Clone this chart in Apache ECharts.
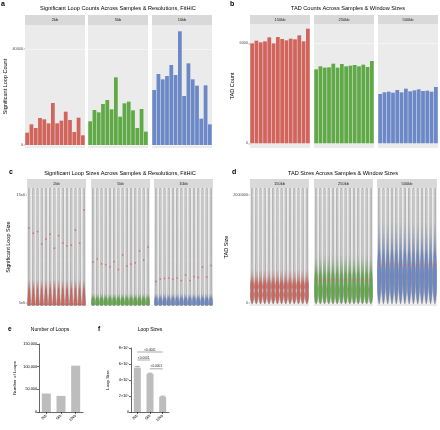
<!DOCTYPE html>
<html><head><meta charset="utf-8">
<script src="https://cdn.jsdelivr.net/npm/echarts@6/dist/echarts.min.js"></script>
<style>html,body{margin:0;padding:0;background:#fff}#c{width:440px;height:430px}</style>
</head><body><div id="c"></div>
<script>
// ---------------- DATA ----------------
const samples = ['S1','S2','S3','S4','S5','S6','S7','S8','S9','S10','S11','S12','S13','S14'];
const loopResolutions = ['2kb','5kb','10kb'];
const loopCounts2kb  = [5140, 8610, 7080, 11250, 10700, 9030, 17500, 9030, 10140, 13890, 10420, 5420, 11390, 4030];
const loopCounts5kb  = [9860, 14580, 13610, 17080, 18750, 14860, 28200, 11800, 17360, 18060, 14440, 7080, 15000, 5560];
const loopCounts10kb = [22900, 29590, 27360, 28750, 33340, 29170, 47360, 20420, 34030, 27360, 24720, 10970, 24860, 8610];
const loopCountTicks = [0, 40000];

const tadWindows = ['150kb','250kb','500kb'];
const tadCounts150kb = [6000, 6160, 6060, 6120, 6360, 6000, 6380, 6260, 6180, 6280, 6240, 6480, 6120, 6880];
const tadCounts250kb = [4440, 4620, 4540, 4560, 4780, 4540, 4760, 4620, 4660, 4700, 4620, 4720, 4580, 4940];
const tadCounts500kb = [2960, 3060, 3100, 3040, 3200, 3060, 3280, 3120, 3180, 3240, 3140, 3160, 3100, 3380];
const tadCountTicks = [0, 6000];

// loop sizes (axis units, labelled "…e6")
const loopSizeMedian2kb  = [11.92, 11.45, 11.6, 10.44, 10.9, 11.36, 10.06, 11.23, 10.56, 10.28, 10.34, 11.73, 10.53, 13.61];
const loopSizeMedian5kb  = [8.77, 9.05, 8.61, 8.52, 8.33, 8.82, 8.08, 9.44, 8.40, 8.58, 8.70, 9.81, 8.95, 10.16];
const loopSizeMedian10kb = [6.97, 7.19, 7.25, 7.29, 7.19, 7.29, 7.06, 7.59, 7.06, 7.41, 7.34, 8.31, 7.38, 8.45];
const loopSizeTicks = [5, 15];
const loopSizeTickLabels = ['5e6', '15e6'];
// violin density profiles: [value, relative width]
const loopViolin2kb  = [[4.72,0],[4.78,0.95],[5.0,0.85],[5.4,0.7],[5.9,0.55],[6.5,0.45],[7.2,0.38],[9,0.35],[15.6,0.32]];
const loopViolin5kb  = [[4.72,0],[4.78,0.8],[4.95,0.95],[5.2,0.85],[5.5,0.6],[5.9,0.42],[6.5,0.36],[9,0.34],[15.6,0.32]];
const loopViolin10kb = [[4.72,0],[4.78,0.85],[4.95,0.95],[5.2,0.85],[5.5,0.6],[5.9,0.42],[6.5,0.36],[9,0.34],[15.6,0.32]];

const tadSizeMedian150kb = [300000, 295000, 305000, 300000, 298000, 302000, 300000, 296000, 304000, 300000, 298000, 302000, 300000, 305000];
const tadSizeMedian250kb = [430000, 425000, 435000, 428000, 432000, 430000, 426000, 434000, 430000, 428000, 432000, 430000, 427000, 433000];
const tadSizeMedian500kb = [705000, 700000, 715000, 700000, 710000, 705000, 700000, 712000, 705000, 715000, 705000, 700000, 710000, 705000];
const tadSizeTicks = [0, 2000000];
const tadViolin150kb = [[-20000,0],[0,0.3],[60000,0.7],[150000,0.95],[230000,0.75],[300000,0.95],[400000,0.7],[500000,0.5],[600000,0.4],[800000,0.35],[2120000,0.32]];
const tadViolin250kb = [[-20000,0],[20000,0.5],[120000,0.85],[250000,0.95],[350000,0.8],[450000,0.75],[600000,0.55],[800000,0.4],[1000000,0.35],[2120000,0.32]];
const tadViolin500kb = [[-20000,0],[50000,0.4],[200000,0.8],[350000,0.95],[500000,1.0],[650000,0.9],[800000,0.7],[1000000,0.5],[1300000,0.38],[1600000,0.34],[2120000,0.32]];

const summaryCats = ['2kb','5kb','10kb'];
const numberOfLoops = [40700, 35500, 102200];
const loopSizeMean = [555000, 475000, 190000];
const loopSizeErr = [15000, 10000, 8000];
const loopSizeAxisLabels = ['0','2×10⁵','4×10⁵','6×10⁵','8×10⁵'];
const sigBrackets = [[0, 2, 750000], [0, 1, 650000], [1, 2, 540000]];
const sigLabels = ['<0.0001', '<0.0001', '<0.0001'];

// ---------------- STYLE / LAYOUT ----------------
const FONT = 'Liberation Sans, Arial, sans-serif';
const RED = '#D1645B', GREEN = '#5FAA46', BLUE = '#6C88C6';
const grids = [], xAxes = [], yAxes = [], series = [], graphics = [];

function ggFacet(left, top, width, height, stripTop, stripLabel, y) {
  const gi = grids.length;
  grids.push({left, top, width, height, show: true, backgroundColor: '#EBEBEB', borderWidth: 0});
  xAxes.push({gridIndex: gi, type: 'category', data: samples, boundaryGap: true,
    axisLine: {show: false}, axisTick: {show: false}, axisLabel: {show: false}, splitLine: {show: false}});
  yAxes.push({gridIndex: gi, type: 'value', min: y.min, max: y.max,
    axisLine: {show: false},
    axisTick: {show: y.show, length: 1.5, lineStyle: {color: '#333', width: 0.4}, customValues: y.ticks},
    axisLabel: {show: y.show, customValues: y.ticks, formatter: v => y.labels ? y.labels[y.ticks.indexOf(v)] : String(v),
      fontSize: 3.8, color: '#4D4D4D', margin: 2, fontFamily: FONT},
    splitLine: {show: true, lineStyle: {color: '#FFFFFF', width: 0.5}},
    name: y.show ? y.name : '', nameLocation: 'middle', nameGap: y.gap,
    nameTextStyle: {fontSize: 5.5, color: '#000', fontFamily: FONT}});
  graphics.push({type: 'rect', silent: true, shape: {x: left, y: stripTop, width: width, height: top - stripTop}, style: {fill: '#D9D9D9'}});
  graphics.push({type: 'text', silent: true, x: left + width / 2, y: (stripTop + top) / 2,
    style: {text: stripLabel, fontSize: 4, fill: '#1A1A1A', fontFamily: FONT, align: 'center', verticalAlign: 'middle', textAlign: 'center', textVerticalAlign: 'middle'}});
  return gi;
}

function violinRender(profile, color, fadeValue) {
  return function (params, api) {
    const xi = api.value(0), med = api.value(1);
    const slot = api.size([1, 0])[0];
    const half = slot * 0.46;
    const cx = api.coord([xi, profile[0][0]])[0];
    const left = [], right = [];
    profile.forEach(p => {
      const yy = api.coord([xi, p[0]])[1];
      left.push([cx - half * p[1], yy]);
      right.push([cx + half * p[1], yy]);
    });
    const pts = left.concat(right.reverse());
    const yTop = api.coord([xi, profile[profile.length - 1][0]])[1];
    const yBot = api.coord([xi, profile[0][0]])[1];
    const yFade = api.coord([xi, fadeValue])[1];
    const off = Math.min(0.98, Math.max(0, (yFade - yTop) / (yBot - yTop)));
    const mp = api.coord([xi, med]);
    return {type: 'group', children: [
      {type: 'polygon', shape: {points: pts},
        style: {fill: new echarts.graphic.LinearGradient(0, 0, 0, 1, [
          {offset: 0, color: '#F4F4F4'}, {offset: off, color: '#E2E2E2'},
          {offset: off + (1 - off) * 0.4, color: color}, {offset: 1, color: color}]),
          stroke: '#7A7A7A', lineWidth: 0.5}},
      {type: 'circle', shape: {cx: mp[0], cy: mp[1], r: 0.85}, style: {fill: 'rgba(220,90,90,0.8)'}}
    ]};
  };
}

// ---- panel a ----
const aLefts = [25, 88, 152];
const aData = [loopCounts2kb, loopCounts5kb, loopCounts10kb];
const resColors = [RED, GREEN, BLUE];
aLefts.forEach((l, k) => {
  const gi = ggFacet(l, 25, 60, 123, 15, loopResolutions[k],
    {min: -1250, max: 50000, show: k === 0, ticks: loopCountTicks, name: 'Significant Loop Count', gap: 14});
  series.push({type: 'bar', xAxisIndex: gi, yAxisIndex: gi, data: aData[k], barCategoryGap: '12%',
    itemStyle: {color: resColors[k]}, silent: true, animation: false});
});
// ---- panel b ----
const bLefts = [250, 314, 378];
const bData = [tadCounts150kb, tadCounts250kb, tadCounts500kb];
bLefts.forEach((l, k) => {
  const gi = ggFacet(l, 24, 60, 124, 15, tadWindows[k],
    {min: -280, max: 7160, show: k === 0, ticks: tadCountTicks, name: 'TAD Count', gap: 12});
  series.push({type: 'bar', xAxisIndex: gi, yAxisIndex: gi, data: bData[k], barCategoryGap: '12%',
    itemStyle: {color: resColors[k]}, silent: true, animation: false});
});
// ---- panel c ----
const cLefts = [27, 91, 154];
const cMed = [loopSizeMedian2kb, loopSizeMedian5kb, loopSizeMedian10kb];
const cProf = [loopViolin2kb, loopViolin5kb, loopViolin10kb];
const cFade = [7.2, 5.9, 5.9];
cLefts.forEach((l, k) => {
  const gi = ggFacet(l, 188, 59, 118, 179, loopResolutions[k],
    {min: 4.69, max: 15.65, show: k === 0, ticks: loopSizeTicks, labels: loopSizeTickLabels, name: 'Significant Loop Size', gap: 16});
  series.push({type: 'custom', xAxisIndex: gi, yAxisIndex: gi, silent: true, animation: false, clip: true,
    data: cMed[k].map((v, i) => [i, v]), encode: {x: 0, y: 1},
    renderItem: violinRender(cProf[k], resColors[k], cFade[k])});
});
// ---- panel d ----
const dLefts = [250, 314, 377];
const dMed = [tadSizeMedian150kb, tadSizeMedian250kb, tadSizeMedian500kb];
const dProf = [tadViolin150kb, tadViolin250kb, tadViolin500kb];
const dFade = [640000, 900000, 1500000];
dLefts.forEach((l, k) => {
  const gi = ggFacet(l, 188, 59 + (k === 2 ? 1 : 0), 118, 179, tadWindows[k],
    {min: -55000, max: 2130000, show: k === 0, ticks: tadSizeTicks, name: 'TAD Size', gap: 15});
  series.push({type: 'custom', xAxisIndex: gi, yAxisIndex: gi, silent: true, animation: false, clip: true,
    data: dMed[k].map((v, i) => [i, v]), encode: {x: 0, y: 1},
    renderItem: violinRender(dProf[k], resColors[k], dFade[k])});
});

// ---- panel e ----
const axisBlack = {lineStyle: {color: '#000', width: 0.6}};
const eGi = grids.length;
grids.push({left: 39, top: 344, width: 44, height: 68});
xAxes.push({gridIndex: eGi, type: 'category', data: summaryCats, axisLine: axisBlack,
  axisTick: {show: true, alignWithLabel: true, length: 2, lineStyle: {color: '#000', width: 0.6}},
  axisLabel: {rotate: 45, fontSize: 3.8, color: '#000', margin: 3, fontFamily: FONT}});
yAxes.push({gridIndex: eGi, type: 'value', min: 0, max: 150000, interval: 50000,
  axisLine: {show: true, lineStyle: {color: '#000', width: 0.6}},
  axisTick: {show: true, length: 2, lineStyle: {color: '#000', width: 0.6}},
  axisLabel: {fontSize: 3.8, color: '#000', margin: 2, fontFamily: FONT}, splitLine: {show: false},
  name: 'Number of Loops', nameLocation: 'middle', nameGap: 22, nameTextStyle: {fontSize: 4.4, color: '#000', fontFamily: FONT}});
series.push({type: 'bar', xAxisIndex: eGi, yAxisIndex: eGi, data: numberOfLoops, barWidth: 9,
  itemStyle: {color: '#BDBDBD'}, silent: true, animation: false});

// ---- panel f ----
const fGi = grids.length;
grids.push({left: 131, top: 348, width: 38, height: 64});
xAxes.push({gridIndex: fGi, type: 'category', data: summaryCats, axisLine: axisBlack,
  axisTick: {show: true, alignWithLabel: true, length: 2, lineStyle: {color: '#000', width: 0.6}},
  axisLabel: {rotate: 45, fontSize: 3.8, color: '#000', margin: 3, fontFamily: FONT}});
yAxes.push({gridIndex: fGi, type: 'value', min: 0, max: 800000, interval: 200000,
  axisLine: {show: true, lineStyle: {color: '#000', width: 0.6}},
  axisTick: {show: true, length: 2, lineStyle: {color: '#000', width: 0.6}},
  axisLabel: {fontSize: 3.8, color: '#000', margin: 2, fontFamily: FONT, formatter: v => loopSizeAxisLabels[Math.round(v / 200000)]},
  splitLine: {show: false},
  name: 'Loop Size', nameLocation: 'middle', nameGap: 21, nameTextStyle: {fontSize: 4.4, color: '#000', fontFamily: FONT}});
series.push({type: 'bar', xAxisIndex: fGi, yAxisIndex: fGi, data: loopSizeMean, barWidth: 7,
  itemStyle: {color: '#BDBDBD'}, silent: true, animation: false});
series.push({type: 'custom', xAxisIndex: fGi, yAxisIndex: fGi, silent: true, animation: false,
  data: loopSizeMean.map((m, i) => [i, m, loopSizeErr[i]]), encode: {x: 0, y: 1},
  renderItem: (p, api) => {
    const i = api.value(0), m = api.value(1), e = api.value(2);
    const a = api.coord([i, m]), b = api.coord([i, m + e]);
    return {type: 'group', children: [
      {type: 'line', shape: {x1: a[0], y1: a[1], x2: b[0], y2: b[1]}, style: {stroke: '#7A7A7A', lineWidth: 0.6}},
      {type: 'line', shape: {x1: b[0] - 2.5, y1: b[1], x2: b[0] + 2.5, y2: b[1]}, style: {stroke: '#7A7A7A', lineWidth: 0.6}}
    ]};
  }});
series.push({type: 'custom', xAxisIndex: fGi, yAxisIndex: fGi, silent: true, animation: false, clip: false,
  data: sigBrackets.map((s, i) => [s[0], s[1], s[2], i]),
  encode: {x: [0, 1], y: 2},
  renderItem: (p, api) => {
    const x1 = api.value(0), x2 = api.value(1), yv = api.value(2), idx = api.value(3);
    const a = api.coord([x1, yv]), b = api.coord([x2, yv]);
    return {type: 'group', children: [
      {type: 'line', shape: {x1: a[0], y1: a[1], x2: b[0], y2: b[1]}, style: {stroke: '#555', lineWidth: 0.5}},
      {type: 'text', x: (a[0] + b[0]) / 2, y: a[1] - 0.8,
        style: {text: sigLabels[idx], fontSize: 3.2, fill: '#222', fontFamily: FONT, align: 'center', verticalAlign: 'bottom', textAlign: 'center', textVerticalAlign: 'bottom'}}
    ]};
  }});

// ---- titles ----
function T(text, left, top, size, bold, center) {
  const t = {text, left, top, padding: 0, textStyle: {fontSize: size, fontWeight: bold ? 'bold' : 'normal', color: '#000', fontFamily: FONT}};
  if (center) t.textAlign = 'center';
  return t;
}
const titles = [
  T('a', 1, 1, 7, true), T('b', 230, 1, 7, true), T('c', 9, 169, 7, true), T('d', 232, 169, 7, true),
  T('e', 8, 326, 6.5, true), T('f', 98, 326, 6.5, true),
  T('Significant Loop Counts Across Samples & Resolutions, FitHiC', 118, 5, 5.6, false, true),
  T('TAD Counts Across Samples & Window Sizes', 348, 5, 5.6, false, true),
  T('Significant Loop Sizes Across Samples & Resolutions, FitHiC', 120, 170, 5.6, false, true),
  T('TAD Sizes Across Samples & Window Sizes', 343, 170, 5.6, false, true),
  T('Number of Loops', 50, 327, 5, false, true),
  T('Loop Sizes', 150, 327, 5, false, true)
];

const chart = echarts.init(document.getElementById('c'), null, {renderer: 'canvas'});
chart.setOption({
  animation: false,
  backgroundColor: '#FFFFFF',
  title: titles,
  grid: grids, xAxis: xAxes, yAxis: yAxes, series: series,
  graphic: graphics
});
</script>
</body></html>
